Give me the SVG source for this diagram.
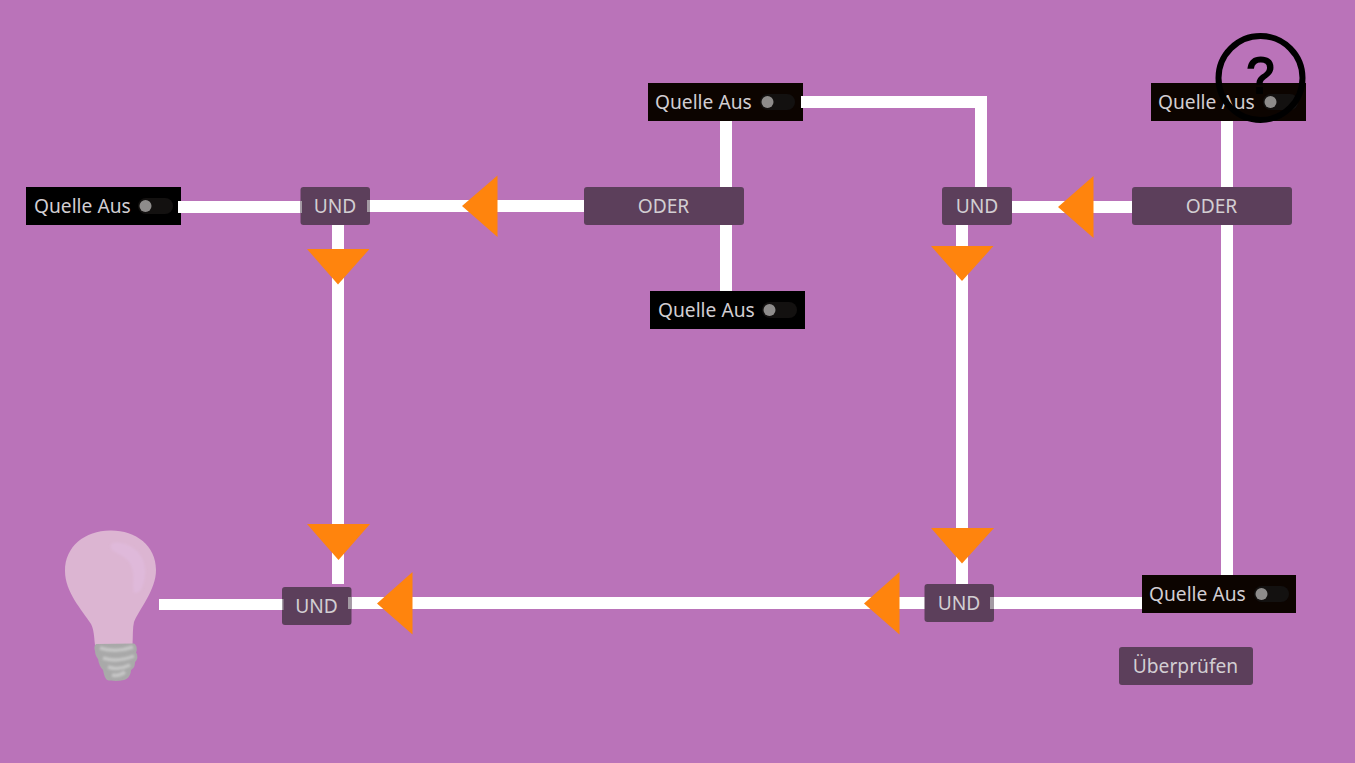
<svg xmlns="http://www.w3.org/2000/svg" width="1355" height="763" viewBox="0 0 1355 763">
<style>
.bg{fill:#ba73b9}
.w{fill:#fff}
.t{fill:#ff840d}
.g{fill:#5c3f5b}
.tick{fill:#a39aa3}
.lbl{font-family:"Noto Sans","Open Sans",sans-serif;font-size:19.2px;fill:#d2ced2}
.c{text-anchor:middle}
.track{fill:#131110}
.knob{fill:#8e8c8b}
</style>
<defs>
<filter id="b1" x="-20%" y="-20%" width="140%" height="140%"><feGaussianBlur stdDeviation="0.6"/></filter>
<filter id="b2" x="-30%" y="-30%" width="160%" height="160%"><feGaussianBlur stdDeviation="1.2"/></filter>
<g id="tog"><rect x="0" y="-8" width="35" height="16" rx="8" class="track"/><circle cx="7.5" cy="0" r="6" class="knob"/></g>
</defs>
<rect class="bg" width="1355" height="763"/>
<g id="connectors">
<rect class="w" x="178" y="201" width="124" height="12"/>
<rect class="w" x="368" y="200" width="216" height="12"/>
<rect class="w" x="332" y="225" width="12" height="359"/>
<rect class="w" x="159" y="599" width="124" height="11"/>
<rect class="w" x="350" y="597" width="792" height="12"/>
<rect class="w" x="956" y="225" width="12" height="359"/>
<rect class="w" x="720" y="121" width="12" height="170"/>
<rect class="w" x="801" y="96" width="186" height="12"/>
<rect class="w" x="975" y="96" width="12" height="91"/>
<rect class="w" x="1011" y="201" width="121" height="12"/>
<rect class="w" x="1221" y="121" width="12" height="454"/>
</g>
<g id="arrows">
<polygon class="t" points="462,206 497.5,175.5 497.5,237"/>
<polygon class="t" points="1058,207 1093.500,176 1093.500,238"/>
<polygon class="t" points="377,603.500 412.500,572 412.500,634.500"/>
<polygon class="t" points="864,603.500 899.500,572 899.500,634.500"/>
<polygon class="t" points="307,249 369.500,249 338,284.500"/>
<polygon class="t" points="307,524 370,524 338.500,560"/>
<polygon class="t" points="931,246 993.500,246 962,281"/>
<polygon class="t" points="931,528 994,528 962,563.500"/>
</g>
<g id="src1"><rect x="26" y="187" width="155" height="38" fill="#000"/><rect class="w" x="178" y="201" width="3" height="12"/><text class="lbl" x="34" y="212.500">Quelle Aus</text><use href="#tog" x="138" y="206"/></g>
<g id="src2"><rect x="648" y="83" width="155" height="38" fill="#0c0400"/><rect class="w" x="801" y="96" width="2" height="12"/><text class="lbl" x="655" y="108.500">Quelle Aus</text><use href="#tog" x="760" y="102"/></g>
<g id="src3"><rect x="650" y="291" width="155" height="38" fill="#000"/><text class="lbl" x="658" y="316.500">Quelle Aus</text><use href="#tog" x="762" y="310"/></g>
<g id="src4"><rect x="1151" y="83" width="155" height="38" fill="#0c0400"/><text class="lbl" x="1158" y="108.500">Quelle Aus</text><use href="#tog" x="1263" y="102"/></g>
<g id="src5"><rect x="1142" y="575" width="154" height="38" fill="#0c0400"/><text class="lbl" x="1149" y="600.500">Quelle Aus</text><use href="#tog" x="1254" y="594"/></g>
<g id="und1"><rect class="g" x="300.500" y="187" width="69.500" height="38" rx="3"/><rect class="tick" x="367" y="200" width="3" height="12"/><rect class="tick" x="300.500" y="201" width="1.500" height="12"/><text class="lbl c" x="335" y="212.500">UND</text></g>
<g id="und2"><rect class="g" x="942" y="187" width="70" height="38" rx="3"/><text class="lbl c" x="977" y="212.500">UND</text></g>
<g id="und3"><rect class="g" x="282" y="587" width="69.500" height="38" rx="3"/><rect class="tick" x="348" y="597" width="3.500" height="12"/><rect class="tick" x="282" y="599" width="1.500" height="11"/><text class="lbl c" x="316.500" y="612.500">UND</text></g>
<g id="und4"><rect class="g" x="924.500" y="584" width="69.500" height="38" rx="3"/><rect class="tick" x="990" y="597" width="4" height="12"/><text class="lbl c" x="959" y="609.500">UND</text></g>
<g id="oder1"><rect class="g" x="584" y="187" width="160" height="38" rx="3"/><text class="lbl c" x="663.500" y="212.500">ODER</text></g>
<g id="oder2"><rect class="g" x="1132" y="187" width="160" height="38" rx="3"/><text class="lbl c" x="1211.500" y="212.500">ODER</text></g>
<g id="check"><rect class="g" x="1119" y="647" width="134" height="38" rx="3"/><text class="lbl c" x="1185.500" y="672.500">Überprüfen</text></g>
<g id="help"><circle cx="1260.500" cy="78" r="42" fill="none" stroke="#000" stroke-width="6"/><text x="1260.500" y="93" text-anchor="middle" font-family="'Liberation Sans',sans-serif" font-size="50" fill="#000" stroke="#000" stroke-width="2">?</text></g>
<g id="bulb">
<path filter="url(#b1)" fill="#dcb5d2" d="M110,530.500C135,530 156,545 156,570C156,590 140,608 134,622C132.500,628 133,636 132.500,645L95,645C94,636 94,630 91,624C82,610 65,592 65,571C65,546 85,531 110,530.500Z"/>
<path filter="url(#b2)" fill="#dfb9da" d="M111,545C113,541 122,542 130,546C141,552 146,562 145,575C144,585 141,593 135,593C132,593 134,580 133,572C131,560 124,557 117,553C113,551 110,549 111,545Z"/>
<path filter="url(#b1)" fill="#a9a9a9" d="M96,644L134,643.500C137,645 137.500,650 136,652.500C138,655 138,660 135,662C135,666 134,668 131,670C131,675 128,679 124,680C118,681.500 111,681 107,680C104,677 104,673 103,670C100,667 99,664 98,659C96,656 95,654 95,651C94,648 94,646 96,644Z"/>
<g filter="url(#b2)" fill="none" stroke="#c6c6c6" stroke-width="3.500"><path d="M100,648C110,651 122,651 133,647"/><path d="M103,658C112,661 124,660 134,656"/><path d="M108,667C114,669 122,669 130,665"/><path d="M112,675C116,676 121,675 125,672"/></g>
</g>
</svg>
